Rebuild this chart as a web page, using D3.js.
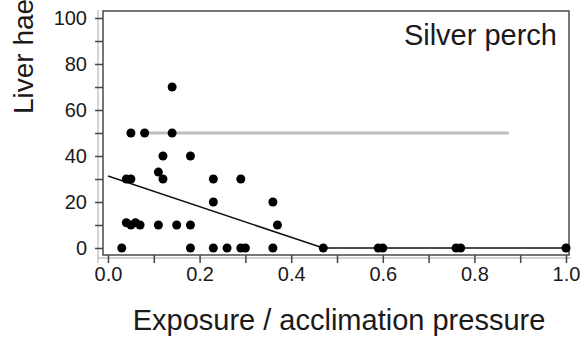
<!DOCTYPE html>
<html>
<head>
<meta charset="utf-8">
<script src="https://cdn.jsdelivr.net/npm/d3@7"></script>
<style>
  body { margin: 0; background: #fff; }
  text { font-family: "Liberation Sans", Arial, sans-serif; fill: #1a1a1a; }
</style>
</head>
<body>
<div id="main"></div>
<script>
var width = 582;
var height = 342;

// data
var exposure = [0.05, 0.08, 0.14, 0.14,
    0.12, 0.18, 0.11,
    0.04, 0.05, 0.12, 0.23, 0.29,
    0.23, 0.36,
    0.37, 0.04, 0.05, 0.06, 0.07, 0.11, 0.15, 0.18,
    0.03, 0.18, 0.23, 0.26, 0.29, 0.30, 0.36, 0.47, 0.59, 0.60, 0.76, 0.77, 1.0];
var haem = [50, 50, 50, 70,
    40, 40, 33,
    30, 30, 30, 30, 30,
    20, 20,
    10, 11, 10, 11, 10, 10, 10, 10,
    0, 0, 0, 0, 0, 0, 0, 0, 0, 0, 0, 0, 0];

var fitX = [0, 0.47, 1.0];
var fitY = [31.3, 0, 0];
var refX = [0.08, 0.875];
var refY = [50, 50];

var xTicks = [0, 0.2, 0.4, 0.6, 0.8, 1.0];
var xMinor = [0.1, 0.3, 0.5, 0.7, 0.9];
var yTicks = [0, 20, 40, 60, 80, 100];
var yMinor = [10, 30, 50, 70, 90];

var frame = {l: 103, r: 569, t: 11, b: 255};

var svg = d3.select('#main').append('svg')
    .attr('width', width)
    .attr('height', height);

var xScale = d3.scaleLinear().domain([0, 1]).range([108, 566]);
var yScale = d3.scaleLinear().domain([0, 100]).range([248, 18]);

// light grey offset axis lines
svg.append('line')
    .attr('x1', 98).attr('x2', 98)
    .attr('y1', 10).attr('y2', 263)
    .style('stroke', '#c4c4c4').style('stroke-width', 1.5);
svg.append('line')
    .attr('x1', 98).attr('x2', 571)
    .attr('y1', 258).attr('y2', 258)
    .style('stroke', '#c4c4c4').style('stroke-width', 1.5);

// y ticks
var yAxis = d3.axisLeft(yScale).tickValues(yTicks.concat(yMinor))
    .tickSize(8).tickPadding(8)
    .tickFormat(function(d) { return yTicks.indexOf(d) >= 0 ? d : ''; });
var gy = svg.append('g')
    .attr('transform', `translate(${frame.l}, 0)`)
    .call(yAxis);
gy.select('.domain').remove();
gy.selectAll('line').style('stroke', '#444').style('stroke-width', 1.5);
gy.selectAll('text').style('font-size', '20px').attr('fill', '#1a1a1a')
    .attr('x', -16);

// x ticks
var xAxis = d3.axisBottom(xScale).tickValues(xTicks.concat(xMinor))
    .tickSize(8).tickPadding(6)
    .tickFormat(function(d) { return xTicks.indexOf(d) >= 0 ? d3.format('.1f')(d) : ''; });
var gx = svg.append('g')
    .attr('transform', `translate(0, ${frame.b})`)
    .call(xAxis);
gx.select('.domain').remove();
gx.selectAll('line').style('stroke', '#444').style('stroke-width', 1.5);
gx.selectAll('text').style('font-size', '20px').attr('fill', '#1a1a1a')
    .attr('y', 12);

// frame
svg.append('rect')
    .attr('x', frame.l).attr('y', frame.t)
    .attr('width', frame.r - frame.l).attr('height', frame.b - frame.t)
    .style('fill', 'none').style('stroke', '#4a4a4a').style('stroke-width', 1.5);

var line = d3.line()
    .x(function(d) { return xScale(d[0]); })
    .y(function(d) { return yScale(d[1]); });

svg.append('path')
    .datum(d3.zip(refX, refY))
    .attr('d', line)
    .style('fill', 'none').style('stroke', '#bdbdbd').style('stroke-width', 3);

svg.append('path')
    .datum(d3.zip(fitX, fitY))
    .attr('d', line)
    .style('fill', 'none').style('stroke', '#111').style('stroke-width', 1.5);

svg.selectAll('.dot')
    .data(d3.zip(exposure, haem))
    .enter()
    .append('circle')
    .attr('class', 'dot')
    .attr('cx', function(d) { return xScale(d[0]); })
    .attr('cy', function(d) { return yScale(d[1]); })
    .attr('r', 4.5)
    .style('fill', '#000');

svg.append('text')
    .text('Silver perch')
    .attr('x', 557).attr('y', 45)
    .attr('text-anchor', 'end')
    .style('font-size', '29px');

svg.append('text')
    .text('Exposure / acclimation pressure')
    .attr('x', 339).attr('y', 330)
    .attr('text-anchor', 'middle')
    .style('font-size', '29px');

// the label runs off the top edge, as in the original figure crop
svg.append('text')
    .text('Liver haemorrhage (%)')
    .attr('transform', 'translate(33, 114) rotate(-90)')
    .style('font-size', '28px');
</script>
</body>
</html>
